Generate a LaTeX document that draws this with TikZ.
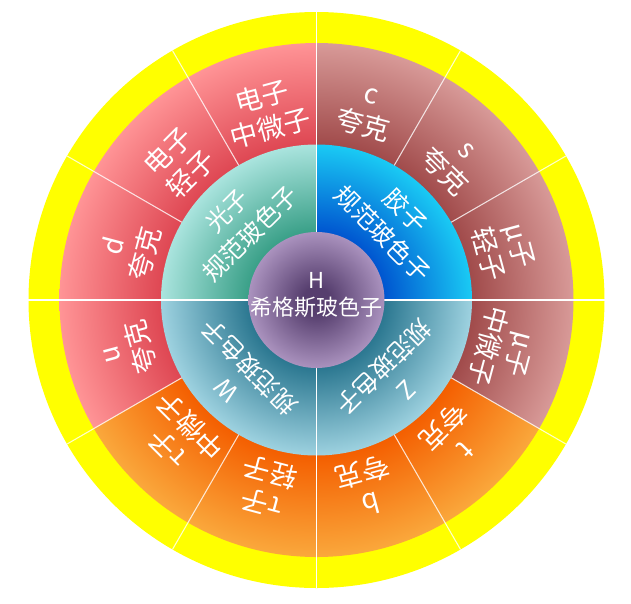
\documentclass[tikz,border=0pt]{standalone}
\usepackage{fontspec}
\setmainfont{Noto Sans CJK SC}
\usepackage{xcolor}
\usepackage{tikz}

% Couleurs des anneaux
\definecolor{jaune}{RGB}{255,255,0}
\definecolor{rougeclair}{RGB}{255,148,150}
\definecolor{rougefonce}{RGB}{222,70,82}
\definecolor{brunclair}{RGB}{216,154,152}
\definecolor{brunfonce}{RGB}{160,74,74}
\definecolor{orangeclair}{RGB}{250,168,60}
\definecolor{orangefonce}{RGB}{244,94,0}
\definecolor{vertclair}{RGB}{170,228,222}
\definecolor{vertfonce}{RGB}{58,160,136}
\definecolor{bleuclair}{RGB}{26,202,244}
\definecolor{bleufonce}{RGB}{0,86,208}
\definecolor{cyanclair}{RGB}{158,210,224}
\definecolor{cyanfonce}{RGB}{44,120,145}
\definecolor{violetclair}{RGB}{170,146,190}
\definecolor{violetfonce}{RGB}{86,62,110}

% Dégradés radiaux (25bp = rayon du cercle ombré)
\pgfdeclareradialshading{ombrerouge}{\pgfpoint{0bp}{0bp}}{color(0bp)=(rougefonce); color(15bp)=(rougefonce); color(25bp)=(rougeclair); color(50bp)=(rougeclair)}
\pgfdeclareradialshading{ombrebrun}{\pgfpoint{0bp}{0bp}}{color(0bp)=(brunfonce); color(15bp)=(brunfonce); color(25bp)=(brunclair); color(50bp)=(brunclair)}
\pgfdeclareradialshading{ombreorange}{\pgfpoint{0bp}{0bp}}{color(0bp)=(orangefonce); color(15bp)=(orangefonce); color(25bp)=(orangeclair); color(50bp)=(orangeclair)}
\pgfdeclareradialshading{ombrevert}{\pgfpoint{0bp}{0bp}}{color(0bp)=(vertfonce); color(11bp)=(vertfonce); color(25bp)=(vertclair); color(50bp)=(vertclair)}
\pgfdeclareradialshading{ombrebleu}{\pgfpoint{0bp}{0bp}}{color(0bp)=(bleufonce); color(11bp)=(bleufonce); color(25bp)=(bleuclair); color(50bp)=(bleuclair)}
\pgfdeclareradialshading{ombrecyan}{\pgfpoint{0bp}{0bp}}{color(0bp)=(cyanfonce); color(11bp)=(cyanfonce); color(25bp)=(cyanclair); color(50bp)=(cyanclair)}
\pgfdeclareradialshading{ombreviolet}{\pgfpoint{0bp}{0bp}}{color(0bp)=(violetfonce); color(5bp)=(violetfonce); color(25bp)=(violetclair); color(50bp)=(violetclair)}

\tikzset{
    % L'anneau extérieur jaune
    anneau/.style={
        fill=jaune
    },
    % Les traits blancs entre les secteurs
    separateur/.style={
        draw=white,
        line width=0.6pt,
        opacity=0.8
    },
    axe/.style={
        draw=white,
        line width=1.1pt
    },
    % Les textes des particules
    fermion/.style={
        text=white,
        align=center,
        inner sep=0pt,
        font=\fontsize{15.5}{18.5}\selectfont
    },
    boson/.style={
        text=white,
        align=center,
        inner sep=0pt,
        font=\fontsize{14}{18.5}\selectfont
    },
    higgs/.style={
        text=white,
        align=center,
        inner sep=0pt,
        font=\fontsize{12.5}{15}\selectfont
    }
}

\begin{document}
\begin{tikzpicture}
        \useasboundingbox (-6.33,-6.06) rectangle (6.29,6.0);
        \def\Rext{5.76}
        \def\Rfer{5.14}
        \def\Rbos{3.11}
        \def\Rhig{1.36}

        % --- 1. Anneau jaune ---
        \fill[anneau] (0,0) circle (\Rext);

        % --- 2. Secteurs des fermions (trois familles de couleurs) ---
        \begin{scope}
            \clip (0,0) -- (90:6) arc[start angle=90, end angle=210, radius=6] -- cycle;
            \shade[shading=ombrerouge] (0,0) circle (\Rfer);
        \end{scope}
        \begin{scope}
            \clip (0,0) -- (210:6) arc[start angle=210, end angle=330, radius=6] -- cycle;
            \shade[shading=ombreorange] (0,0) circle (\Rfer);
        \end{scope}
        \begin{scope}
            \clip (0,0) -- (-30:6) arc[start angle=-30, end angle=90, radius=6] -- cycle;
            \shade[shading=ombrebrun] (0,0) circle (\Rfer);
        \end{scope}

        % --- 3. Quadrants des bosons de jauge ---
        \begin{scope}
            \clip (0,0) rectangle (-4,4);
            \shade[shading=ombrevert] (0,0) circle (\Rbos);
        \end{scope}
        \begin{scope}
            \clip (0,0) rectangle (4,4);
            \shade[shading=ombrebleu] (0,0) circle (\Rbos);
        \end{scope}
        \begin{scope}
            \clip (0,0) rectangle (4,-4);
            \shade[shading=ombrecyan] (0,0) circle (\Rbos);
        \end{scope}
        \begin{scope}
            \clip (0,0) rectangle (-4,-4);
            \shade[shading=ombrecyan] (0,0) circle (\Rbos);
        \end{scope}

        % --- 4. Traits de séparation ---
        \foreach \a in {30,60,120,150,210,240,300,330}
            \draw[separateur] (\a:\Rbos) -- (\a:\Rext);
        \draw[axe] (-\Rext,0) -- (\Rext,0);
        \draw[axe] (0,-\Rext) -- (0,\Rext);

        % --- 5. Boson de Higgs au centre ---
        \shade[shading=ombreviolet] (0,0) circle (\Rhig);

        % --- 6. Textes ---
        \foreach \a/\txt [count=\i] in {105/{电子\\中微子}, 135/{电子\\轻子}, 165/{d\\夸克},
                195/{u\\夸克}, 225/{τ子\\中微子}, 255/{τ子\\轻子}, 285/{b\\夸克},
                315/{t\\夸克}, 345/{μ子\\中微子}, 15/{μ子\\轻子}, 45/{s\\夸克}, 75/{c\\夸克}}
            \node[fermion, rotate=\a-90] (fermion-\i) at (\a:3.88) {\txt};

        \node[boson, rotate=45]  (photon) at (135:2.2) {光子\\规范玻色子};
        \node[boson, rotate=-45] (gluon)  at (45:2.2)  {胶子\\规范玻色子};
        \node[boson, rotate=135] (bosonW) at (225:2.2) {W\\规范玻色子};
        \node[boson, rotate=225] (bosonZ) at (315:2.2) {Z\\规范玻色子};
        \node[higgs] (higgs) at (0,0.1) {H\\希格斯玻色子};
    \end{tikzpicture}
\end{document}
